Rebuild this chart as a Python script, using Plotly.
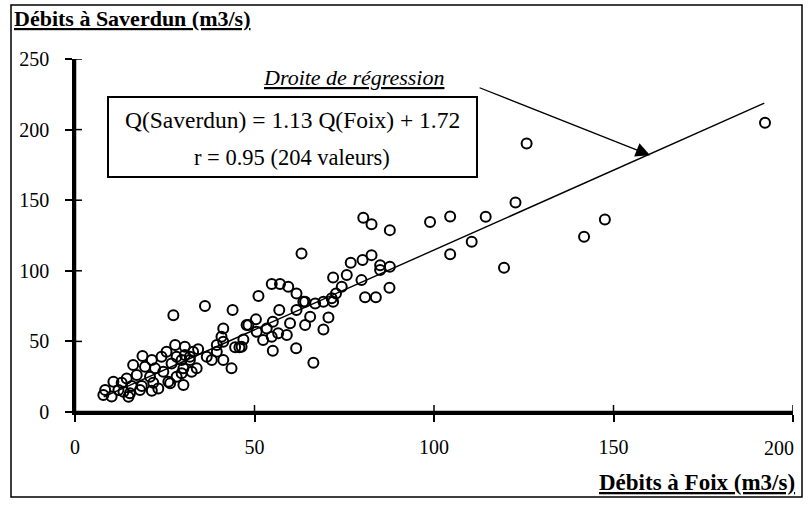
import plotly.graph_objects as go

# Débits (m3/s)
foix = [7.9, 8.4, 10.2, 10.7, 12.1, 13.0, 13.5, 14.4, 14.9, 15.3, 15.8, 16.2, 17.2, 18.1, 18.6,
        18.8, 19.5, 20.9, 21.4, 21.8, 21.4, 22.3, 23.2, 24.1, 24.6, 25.5, 26.0, 26.5, 26.9, 27.4,
        27.9, 28.3, 28.3, 29.7, 29.7, 30.2, 30.6, 30.6, 30.2, 32.0, 32.5, 32.9, 33.9, 34.3, 32.0,
        36.2, 36.7, 38.1, 39.5, 39.5, 40.8, 41.3, 41.3, 41.3, 43.6, 43.9, 44.6, 45.8, 46.4, 46.9,
        47.8, 48.3, 50.4, 50.6, 51.1, 52.4, 53.4, 54.8, 54.8, 55.1, 55.1, 56.6, 56.9, 57.1, 59.0,
        59.4, 59.9, 61.6, 61.7, 61.7, 63.1, 63.6, 64.1, 65.5, 64.1, 66.9, 66.4, 69.2, 69.2, 70.6,
        71.5, 71.9, 71.9, 72.7, 74.3, 75.7, 76.8, 79.8, 80.1, 80.3, 80.8, 82.6, 82.6, 83.8, 85.0,
        85.0, 87.6, 87.7, 87.7, 98.9, 104.5, 104.5, 110.5, 114.4, 119.5, 122.7, 125.8, 141.8, 147.6,
        192.2]
saverdun = [12.0, 15.6, 11.0, 21.4, 15.6, 20.7, 14.4, 23.8, 10.8, 13.2, 18.4, 33.3, 26.2, 15.6, 18.4,
            39.6, 32.1, 25.0, 15.1, 20.7, 36.8, 30.9, 16.7, 39.1, 28.5, 42.7, 21.4, 20.3, 34.4, 68.6,
            47.4, 39.1, 25.0, 36.8, 27.4, 19.1, 46.2, 40.3, 30.9, 36.8, 28.5, 42.7, 30.9, 44.4, 39.1,
            75.0, 39.1, 36.8, 47.4, 42.7, 53.3, 59.2, 49.8, 36.8, 30.9, 72.2, 45.8, 45.8, 46.2, 51.4,
            61.6, 61.6, 65.6, 56.8, 82.1, 51.0, 59.2, 53.3, 90.6, 63.9, 43.4, 55.7, 72.2, 90.6, 54.5,
            88.7, 62.8, 45.1, 84.0, 72.2, 112.3, 78.1, 61.6, 67.5, 78.1, 76.9, 34.9, 58.5, 78.1, 67.0,
            80.5, 78.1, 95.3, 84.0, 88.7, 97.0, 105.7, 93.4, 107.6, 137.5, 81.2, 111.1, 133.0, 81.2, 104.0,
            100.5, 88.0, 102.8, 128.8, 134.5, 138.5, 111.7, 120.5, 138.2, 102.1, 148.4, 190.1, 124.1, 136.4,
            204.8]

slope = 1.13
intercept = 1.72
line_x = [8, 192]
line_y = [slope * v + intercept for v in line_x]

x_ticks = [0, 50, 100, 150, 200]
x_labels = ["0", "50", "100", "150", "200"]
y_ticks = [0, 50, 100, 150, 200, 250]
y_labels = ["0", "50", "100", "150", "200", "250"]

FONT = "Liberation Serif"

# plot area in pixels
L, R, T, B = 75, 793, 59, 412
W, H = 810, 506


def px(X):
    return (X - L) / (R - L)


def py(Y):
    return (B - Y) / (B - T)


# the last x label sits left of its tick (as in the original): drawn as an annotation
x_text = [t if t != x_labels[-1] else "" for t in x_labels]

fig = go.Figure()
fig.add_trace(go.Scatter(x=line_x, y=line_y, mode="lines",
                         line=dict(color="black", width=1.4), hoverinfo="skip"))
fig.add_trace(go.Scatter(x=foix, y=saverdun, mode="markers",
                         marker=dict(symbol="circle-open", size=10, color="black",
                                     line=dict(width=2, color="black")),
                         cliponaxis=False))

line_style = dict(showline=True, linecolor="black", linewidth=2.5, showgrid=False,
                  zeroline=False, tickcolor="black", tickwidth=1.5, ticklen=7,
                  ticks="outside", ticklabeloverflow="allow", layer="above traces",
                  automargin=False)
tickfont = dict(family=FONT, size=20, color="black")
fig.update_layout(
    width=W, height=H, autosize=False,
    margin=dict(l=L, r=W - R, t=T, b=H - B, autoexpand=False),
    paper_bgcolor="white", plot_bgcolor="white",
    showlegend=False,
    font=dict(family=FONT, color="black"),
    xaxis=dict(range=[0, 200], tickvals=x_ticks, ticktext=x_text,
               tickfont=tickfont, ticklabelstandoff=8, **line_style),
    yaxis=dict(range=[0, 250], tickvals=y_ticks, ticktext=y_labels,
               tickfont=tickfont, ticklabelstandoff=12, **line_style),
)

shapes = [
    # outer frame
    dict(type="rect", xref="paper", yref="paper", x0=px(11), x1=px(802), y0=py(5), y1=py(497),
         line=dict(color="black", width=1.5)),
    # equation box
    dict(type="rect", xref="paper", yref="paper", x0=px(108), x1=px(477), y0=py(97), y1=py(177),
         line=dict(color="black", width=2)),
    # axis lines
    dict(type="line", xref="paper", yref="paper", x0=0, x1=1, y0=0, y1=0, layer="above",
         line=dict(color="black", width=2.5)),
    dict(type="line", xref="paper", yref="paper", x0=0, x1=0, y0=0, y1=1, layer="above",
         line=dict(color="black", width=2.5)),
]
# inner half of the crossing tick marks
for t in x_ticks:
    shapes.append(dict(type="line", xref="x", yref="paper", ysizemode="pixel", yanchor=0,
                       x0=t, x1=t, y0=0, y1=7, line=dict(color="black", width=1.5)))
for t in y_ticks:
    shapes.append(dict(type="line", yref="y", xref="paper", xsizemode="pixel", xanchor=0,
                       y0=t, y1=t, x0=0, x1=7, line=dict(color="black", width=1.5)))
fig.update_layout(shapes=shapes)

annots = [
    dict(text="<b><u>Débits à Saverdun (m3/s)</u></b>", x=px(12), y=py(18), xanchor="left",
         yanchor="middle", font=dict(size=22)),
    dict(text="<b><u>Débits à Foix (m3/s)</u></b>", x=px(797), y=py(483), xanchor="right",
         yanchor="middle", font=dict(size=23)),
    dict(text="Q(Saverdun) = 1.13 Q(Foix) + 1.72", x=px(292), y=py(120), xanchor="center",
         yanchor="middle", font=dict(size=23.5)),
    dict(text="r = 0.95 (204 valeurs)", x=px(292), y=py(157), xanchor="center",
         yanchor="middle", font=dict(size=22.5)),
    dict(text="<i><u>Droite de régression</u></i>", x=px(353), y=py(77), xanchor="center",
         yanchor="middle", font=dict(size=22)),
    dict(text=x_labels[-1], x=px(796), y=py(448), xanchor="right",
         yanchor="middle", font=dict(size=20)),
]
for a in annots:
    a.update(xref="paper", yref="paper", showarrow=False)
    a["font"].update(family=FONT, color="black")

annots.append(dict(x=160.2, y=181.9, xref="x", yref="y", ax=-172, ay=-68, axref="pixel",
                   ayref="pixel", text="", showarrow=True, arrowhead=2, arrowsize=2.2,
                   arrowwidth=1.3, arrowcolor="black", standoff=0))
fig.update_layout(annotations=annots)

fig.write_html("out.html",
               config={"displayModeBar": False, "responsive": False},
               post_script="document.body.style.margin='0';document.body.style.overflow='hidden';")
